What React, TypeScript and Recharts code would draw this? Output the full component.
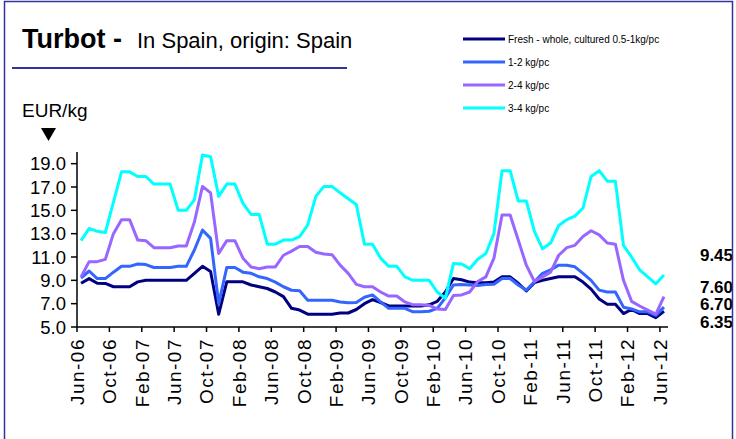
import React from "react";
import { LineChart, Line, XAxis, YAxis, LabelList } from "recharts";

const FONT = "'Liberation Sans', Arial, sans-serif";

const months = (
  "Jun-06 Jul-06 Aug-06 Sep-06 Oct-06 Nov-06 Dec-06 " +
  "Jan-07 Feb-07 Mar-07 Apr-07 May-07 Jun-07 Jul-07 Aug-07 Sep-07 Oct-07 Nov-07 Dec-07 " +
  "Jan-08 Feb-08 Mar-08 Apr-08 May-08 Jun-08 Jul-08 Aug-08 Sep-08 Oct-08 Nov-08 Dec-08 " +
  "Jan-09 Feb-09 Mar-09 Apr-09 May-09 Jun-09 Jul-09 Aug-09 Sep-09 Oct-09 Nov-09 Dec-09 " +
  "Jan-10 Feb-10 Mar-10 Apr-10 May-10 Jun-10 Jul-10 Aug-10 Sep-10 Oct-10 Nov-10 Dec-10 " +
  "Jan-11 Feb-11 Mar-11 Apr-11 May-11 Jun-11 Jul-11 Aug-11 Sep-11 Oct-11 Nov-11 Dec-11 " +
  "Jan-12 Feb-12 Mar-12 Apr-12 May-12 Jun-12"
).split(" ");

const tickLabels = [
  "Jun-06", "Oct-06", "Feb-07", "Jun-07", "Oct-07", "Feb-08", "Jun-08",
  "Oct-08", "Feb-09", "Jun-09", "Oct-09", "Feb-10", "Jun-10", "Oct-10",
  "Feb-11", "Jun-11", "Oct-11", "Feb-12", "Jun-12",
];

const yTicks = [5, 7, 9, 11, 13, 15, 17, 19];

// EUR/kg, monthly
const fresh = [
  8.75, 9.15, 8.75, 8.73, 8.45, 8.45, 8.45, 8.87, 9.0, 9.0,
  9.0, 9.0, 9.0, 9.0, 9.6, 10.2, 9.75, 6.1, 8.87, 8.87,
  8.87, 8.6, 8.45, 8.3, 8.0, 7.6, 6.6, 6.45, 6.1, 6.1,
  6.1, 6.1, 6.2, 6.2, 6.5, 7.0, 7.35, 7.1, 6.8, 6.8,
  6.8, 6.8, 6.8, 6.9, 7.2, 8.0, 9.15, 9.05, 8.85, 8.8,
  8.8, 8.85, 9.3, 9.3, 8.75, 8.1, 8.8, 9.0, 9.15, 9.3,
  9.3, 9.3, 8.85, 8.25, 7.4, 6.95, 6.95, 6.15, 6.5, 6.15,
  6.15, 5.8, 6.35,
];

const kg12 = [
  9.2, 9.8, 9.15, 9.15, 9.7, 10.2, 10.2, 10.4, 10.35, 10.1,
  10.1, 10.1, 10.2, 10.2, 11.6, 13.3, 12.6, 7.0, 10.1, 10.1,
  9.7, 9.6, 9.3, 9.15, 8.85, 8.45, 8.15, 8.1, 7.3, 7.3,
  7.3, 7.3, 7.15, 7.07, 7.1, 7.55, 7.75, 7.15, 6.6, 6.6,
  6.6, 6.3, 6.3, 6.35, 6.6, 7.5, 8.6, 8.65, 8.6, 8.55,
  8.65, 8.67, 9.16, 9.16, 8.6, 8.16, 8.87, 9.6, 9.9, 10.3,
  10.3, 10.16, 9.6, 9.0, 8.16, 8.0, 8.0, 6.7, 6.55, 6.3,
  6.3, 6.0, 6.7,
];

const kg24 = [
  9.3, 10.6, 10.6, 10.8, 13.0, 14.2, 14.2, 12.45, 12.4, 11.8,
  11.8, 11.8, 11.95, 11.95, 14.0, 17.05, 16.5, 11.3, 12.4, 12.4,
  10.9, 10.15, 10.0, 10.15, 10.15, 11.15, 11.5, 11.9, 11.9, 11.4,
  11.25, 11.2, 10.3, 9.6, 8.65, 8.45, 8.45, 8.0, 7.65, 7.65,
  7.15, 6.9, 6.9, 6.85, 6.55, 6.5, 7.7, 7.75, 8.0, 8.9,
  9.3, 10.9, 14.6, 14.6, 12.45, 10.3, 8.9, 9.3, 9.7, 11.15,
  11.8, 12.0, 12.75, 13.25, 12.9, 12.2, 12.1, 9.0, 7.2, 6.8,
  6.45, 6.1, 7.6,
];

const kg34 = [
  12.4, 13.45, 13.2, 13.1, 15.7, 18.3, 18.3, 17.9, 17.9, 17.25,
  17.25, 17.25, 15.0, 15.0, 15.9, 19.75, 19.6, 16.2, 17.25, 17.25,
  15.6, 14.65, 14.65, 12.1, 12.1, 12.45, 12.45, 12.75, 13.75, 16.2,
  17.05, 17.05, 16.5, 16.0, 15.5, 12.1, 12.1, 10.9, 10.2, 10.2,
  9.3, 9.0, 9.0, 9.0, 8.0, 7.45, 10.45, 10.4, 10.0, 10.8,
  11.3, 13.0, 18.4, 18.4, 15.8, 15.8, 13.2, 11.7, 12.2, 13.7,
  14.2, 14.5, 15.2, 17.9, 18.4, 17.5, 17.5, 12.0, 11.0, 9.9,
  9.3, 8.7, 9.45,
];

const series = [
  { key: "fresh", name: "Fresh - whole, cultured 0.5-1kg/pc", color: "#000080", dy: 11 },
  { key: "kg12", name: "1-2 kg/pc", color: "#3366FF", dy: -3 },
  { key: "kg24", name: "2-4 kg/pc", color: "#9966FF", dy: -10 },
  { key: "kg34", name: "3-4 kg/pc", color: "#00FFFF", dy: -20 },
];

const data = months.map((month, i) => ({
  i,
  month,
  fresh: fresh[i],
  kg12: kg12[i],
  kg24: kg24[i],
  kg34: kg34[i],
}));

const xTicks = tickLabels.map((t) => months.indexOf(t) - 0.5);
const last = months.length - 1;

const XTick = (props: any) => {
  const { x, y, payload } = props;
  const label = months[Math.round(payload.value + 0.5)];
  return (
    <text
      x={x}
      y={y}
      transform={`rotate(-90 ${x} ${y})`}
      textAnchor="end"
      dy="0.36em"
      fontSize={19}
      fontFamily={FONT}
      letterSpacing={1.5}
      fill="#000"
    >
      {label}
    </text>
  );
};

const endLabel = (dy: number) => (props: any) => {
  const { x, y, value, index } = props;
  if (index !== last) return null;
  return (
    <text
      x={x + 36}
      y={y + dy}
      dy="0.35em"
      fontSize={17}
      fontWeight="bold"
      fontFamily={FONT}
      fill="#000"
    >
      {Number(value).toFixed(2)}
    </text>
  );
};

export default function App() {
  return (
    <div
      style={{
        position: "absolute",
        left: 0,
        top: 0,
        width: 736,
        height: 439,
        background: "#fff",
        overflow: "hidden",
      }}
    >
      <LineChart
        width={736}
        height={439}
        data={data}
        margin={{ top: 152, right: 68, bottom: 0, left: 0 }}
      >
        <XAxis
          type="number"
          dataKey="i"
          domain={[-0.5, 72.5]}
          ticks={xTicks}
          interval={0}
          height={112}
          tickSize={5}
          tickMargin={6}
          tick={<XTick />}
          axisLine={{ stroke: "#000", strokeWidth: 1.5 }}
          tickLine={{ stroke: "#000", strokeWidth: 1.5 }}
          allowDataOverflow
        />
        <YAxis
          domain={[5, 20]}
          ticks={yTicks}
          interval={0}
          width={77}
          tickSize={6}
          tickMargin={5}
          tickFormatter={(v) => Number(v).toFixed(1)}
          tick={{ fontSize: 18.5, fill: "#000", fontFamily: FONT }}
          axisLine={{ stroke: "#000", strokeWidth: 1.5 }}
          tickLine={{ stroke: "#000", strokeWidth: 1.5 }}
          allowDataOverflow
        />
        {series.map((s) => (
          <Line
            key={s.key}
            type="linear"
            dataKey={s.key}
            name={s.name}
            stroke={s.color}
            strokeWidth={3}
            strokeLinejoin="round"
            dot={false}
            isAnimationActive={false}
          >
            <LabelList dataKey={s.key} content={endLabel(s.dy)} />
          </Line>
        ))}
      </LineChart>

      <svg
        width={736}
        height={439}
        style={{ position: "absolute", left: 0, top: 0, pointerEvents: "none" }}
        fontFamily={FONT}
      >
        <rect x={4.5} y={1.5} width={728} height={470} fill="none" stroke="#333399" strokeWidth={1.5} />
        <text x={22} y={48} fontSize={27} fontWeight="bold" fill="#000">
          Turbot -
        </text>
        <text x={137} y={48} fontSize={22} fill="#000">
          In Spain, origin: Spain
        </text>
        <line x1={12} x2={347} y1={68} y2={68} stroke="#333399" strokeWidth={2} />
        <text x={22} y={117} fontSize={19} fill="#000">
          EUR/kg
        </text>
        <polygon points="41,128 56,128 48.5,141" fill="#000" />
        {series.map((s, k) => (
          <g key={s.key}>
            <line x1={463} x2={505} y1={39 + 23 * k} y2={39 + 23 * k} stroke={s.color} strokeWidth={3} />
            <text x={508} y={39 + 23 * k} dy="0.35em" fontSize={10} fill="#000">
              {s.name}
            </text>
          </g>
        ))}
      </svg>
    </div>
  );
}
